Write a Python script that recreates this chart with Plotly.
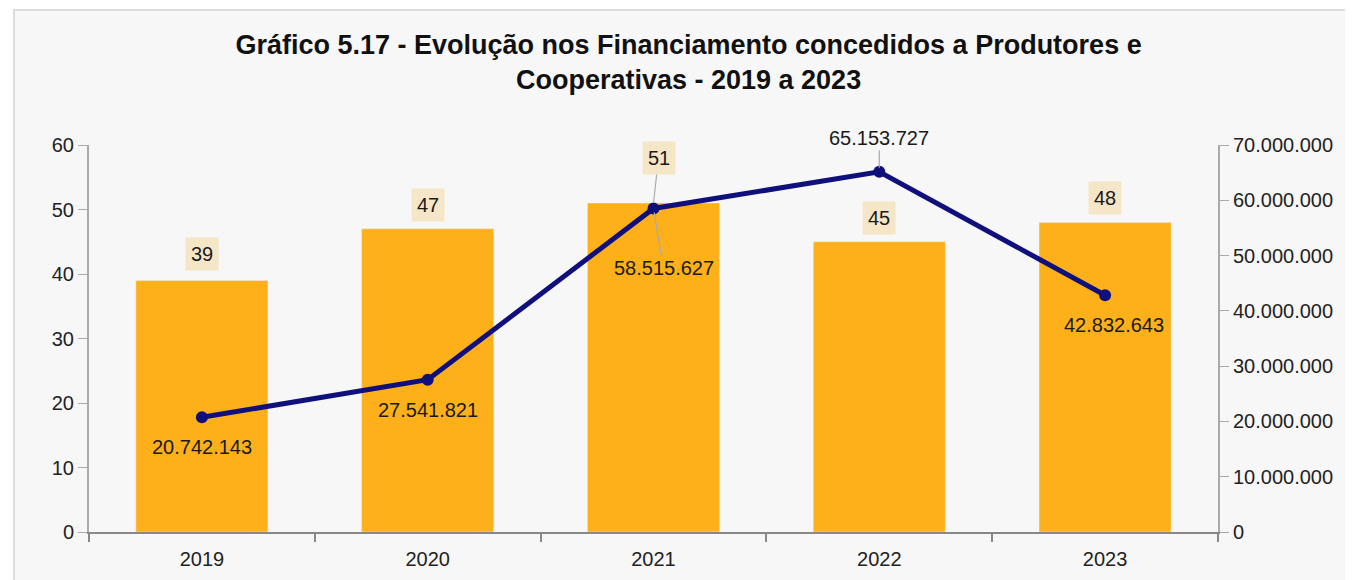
import plotly.graph_objects as go

years = ["2019", "2020", "2021", "2022", "2023"]
contratos = [39, 47, 51, 45, 48]
financiamento = [20742143, 27541821, 58515627, 65153727, 42832643]

left_ticks = [0, 10, 20, 30, 40, 50, 60]
right_ticks = [0, 10000000, 20000000, 30000000, 40000000, 50000000, 60000000, 70000000]

BAR = "#FDB01A"
LINE = "#10107C"
LABEL_BG = "#F5E6C8"
FONT = "Liberation Sans"

xpos = list(range(len(years)))
boundaries = [i - 0.5 for i in range(len(years) + 1)]


def fmt(v):
    return f"{v:,}".replace(",", ".")


fig = go.Figure()
fig.add_trace(go.Bar(x=xpos, y=contratos, marker_color=BAR, width=0.585,
                     yaxis="y", showlegend=False, hoverinfo="skip"))
fig.add_trace(go.Scatter(x=xpos, y=financiamento, yaxis="y2", mode="lines+markers",
                         line=dict(color=LINE, width=5),
                         marker=dict(color=LINE, size=12), showlegend=False))

ann = []
bar_off = {"2019": (0, -26), "2020": (0, -24), "2021": (5, -45), "2022": (0, -24), "2023": (0, -24)}
for i, (y, v) in enumerate(zip(years, contratos)):
    ax, ay = bar_off[y]
    ann.append(dict(x=i, y=v, xref="x", yref="y", text=str(v), showarrow=True,
                    arrowhead=0, arrowwidth=1.2,
                    arrowcolor="#AAAAAA" if y == "2021" else "rgba(0,0,0,0)",
                    ax=ax, ay=ay, bgcolor=LABEL_BG, borderpad=5,
                    font=dict(family=FONT, size=20, color="#1a1a1a")))
line_off = {"2019": (0, 30), "2020": (0, 30), "2021": (10, 60), "2022": (0, -34), "2023": (9, 30)}
for i, (y, v) in enumerate(zip(years, financiamento)):
    ax, ay = line_off[y]
    arrow = y in ("2021", "2022")
    ann.append(dict(x=i, y=v, xref="x", yref="y2", text=fmt(v), showarrow=True,
                    arrowhead=0, arrowwidth=1.2,
                    arrowcolor="#AAAAAA" if arrow else "rgba(0,0,0,0)",
                    ax=ax, ay=ay, standoff=4 if arrow else 0,
                    font=dict(family=FONT, size=20, color="#1a1a1a")))

fig.update_layout(
    width=1353, height=580,
    margin=dict(l=81, r=143, t=137, b=56),
    paper_bgcolor="white", plot_bgcolor="rgba(0,0,0,0)",
    separators=",.",
    font=dict(family=FONT, size=20, color="#222222"),
    title=dict(text="<b>Gráfico 5.17 - Evolução nos Financiamento concedidos a Produtores e<br>Cooperativas - 2019 a 2023</b>",
               x=0.503, xanchor="center", y=0.921, yanchor="top",
               font=dict(family=FONT, size=27, color="#111111")),
    xaxis=dict(range=[-0.5, len(years) - 0.5], tickvals=xpos, ticktext=years,
               showgrid=False, zeroline=False, showline=True, linecolor="#888888", linewidth=2,
               ticks="", tickfont=dict(size=20), ticklabelstandoff=8,
               minor=dict(tickvals=boundaries, ticks="outside", ticklen=8,
                          tickcolor="#888888", tickwidth=1.5, showgrid=False)),
    yaxis=dict(range=[0, 60], tickvals=left_ticks, showgrid=False, zeroline=False,
               showline=True, linecolor="#AAAAAA", linewidth=2, ticks="outside",
               ticklen=9, tickcolor="#AAAAAA", tickfont=dict(size=20)),
    yaxis2=dict(range=[0, 70000000], tickvals=right_ticks, overlaying="y", side="right",
                showgrid=False, zeroline=False, showline=True, linecolor="#AAAAAA", linewidth=2,
                ticks="outside", ticklen=9, tickcolor="#AAAAAA", tickformat=",d",
                tickfont=dict(size=20)),
    annotations=ann,
    shapes=[dict(type="rect", xref="paper", yref="paper",
                 x0=(14 - 89) / 1129, x1=1.2, y0=-0.2, y1=(532 - 10) / 387,
                 fillcolor="#F7F7F7", line=dict(color="#DDDDDD", width=2), layer="below")],
)

fig.write_html("out.html")
